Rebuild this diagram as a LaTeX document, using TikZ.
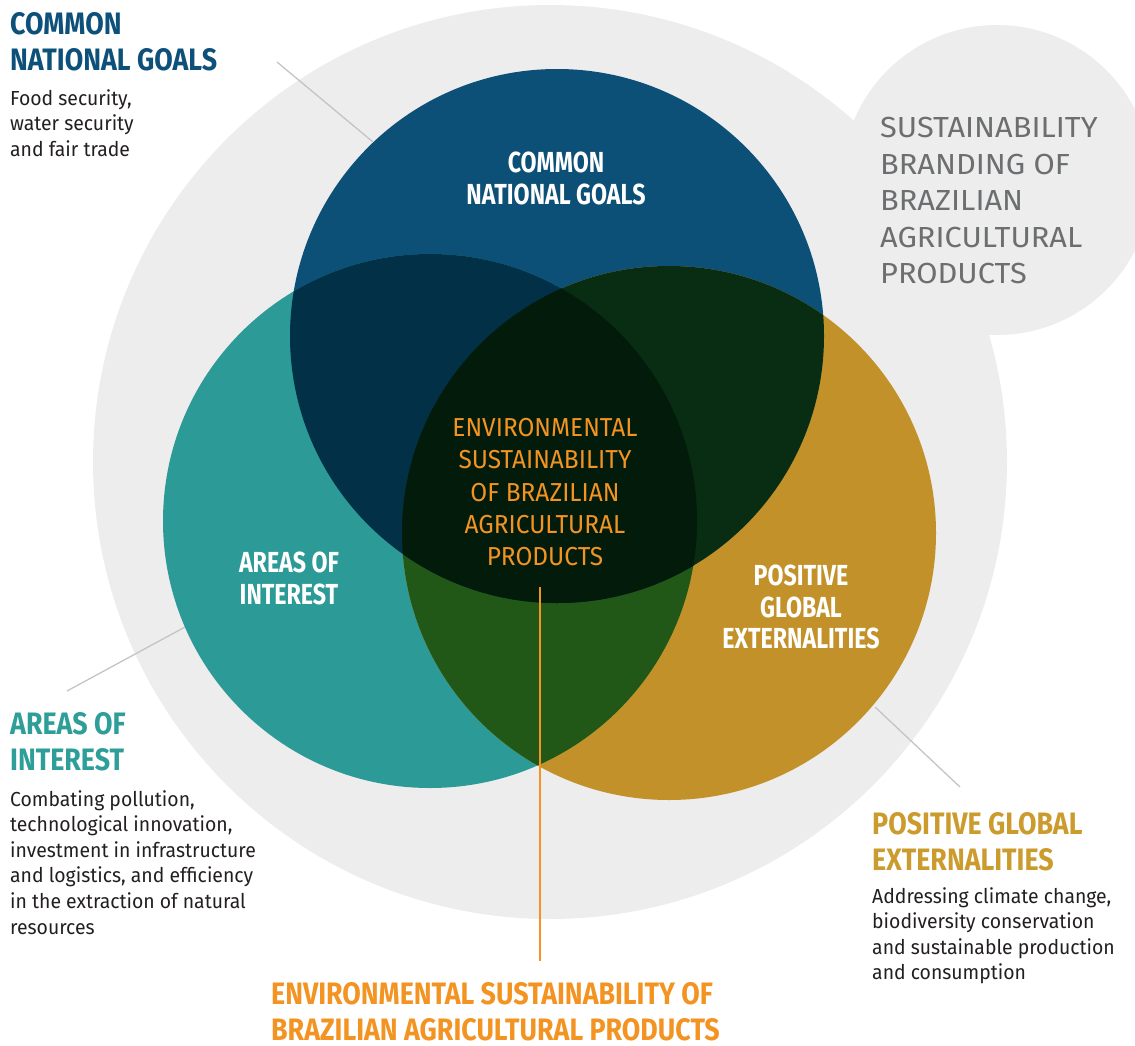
\documentclass[tikz,border=0pt]{standalone}
\usepackage{fontspec}
\setmainfont{Fira Sans}
\newfontfamily\headfont[FakeStretch=0.80]{Fira Sans}
\newfontfamily\sideheadfont[FakeStretch=0.865]{Fira Sans}
\newfontfamily\condfont[FakeStretch=0.94]{Fira Sans}
\newfontfamily\bodyfont[FakeStretch=0.955]{Fira Sans}
\newfontfamily\brandfont[FakeStretch=1.06]{Fira Sans}
\definecolor{bggray}{HTML}{EDEDED}
\definecolor{linegray}{HTML}{C4C4C4}
\definecolor{cblue}{HTML}{0C4F77}
\definecolor{cteal}{HTML}{2C9A96}
\definecolor{cgold}{HTML}{C3912A}
\definecolor{cbt}{HTML}{023047}
\definecolor{cbg}{HTML}{092D13}
\definecolor{ctg}{HTML}{215818}
\definecolor{call}{HTML}{021B0B}
\definecolor{horange}{HTML}{F39322}
\definecolor{hteal}{HTML}{2E9E99}
\definecolor{hgold}{HTML}{CC9B2E}
\definecolor{hblue}{HTML}{0D5079}
\definecolor{txtdark}{HTML}{231F20}
\definecolor{txtgray}{HTML}{6D6E70}
\tikzset{
  disc/.style={circle, inner sep=0pt, outer sep=0pt, minimum size=534pt},
  sidehead/.style={anchor=north west, inner sep=0pt, align=left, font=\sideheadfont\bfseries\fontsize{31}{36.5}\selectfont},
  sidebody/.style={anchor=north west, inner sep=0pt, align=left, text=txtdark, font=\bodyfont\fontsize{20.3}{25.6}\selectfont},
  circlabel/.style={anchor=north, inner sep=0pt, align=center, text=white, font=\headfont\bfseries\fontsize{29}{31.5}\selectfont},
  pointer/.style={draw=linegray, line width=1.3pt},
}
\begin{document}
\begin{tikzpicture}[x=1pt,y=-1pt]
\useasboundingbox (0,0) rectangle (1135,1046);
\clip (0,0) rectangle (1135,1046);
% background gray circles
\node[circle, inner sep=0pt, minimum size=310pt, fill=bggray] (brandbg) at (997,180) {};
\node[circle, inner sep=0pt, minimum size=914pt, fill=bggray] (outer) at (550,462) {};
% pointer lines
\coordinate (p1a) at (277,62);  \coordinate (p1b) at (373,142);
\coordinate (p2a) at (67,691);  \coordinate (p2b) at (185,627);
\coordinate (p3a) at (875,707); \coordinate (p3b) at (960,787);
\draw[pointer] (p1a) -- (p1b);
\draw[pointer] (p2a) -- (p2b);
\draw[pointer] (p3a) -- (p3b);
% three circles
\node[disc, fill=cblue] (blue) at (557,336) {};
\node[disc, fill=cteal] (teal) at (430,521) {};
\node[disc, fill=cgold] (gold) at (669,533) {};
\begin{scope}
  \clip (teal.center) circle[radius=267pt];
  \fill[ctg] (gold.center) circle[radius=267pt];
\end{scope}
\begin{scope}
  \clip (blue.center) circle[radius=267pt];
  \fill[cbt] (teal.center) circle[radius=267pt];
  \fill[cbg] (gold.center) circle[radius=267pt];
  \clip (teal.center) circle[radius=267pt];
  \fill[call] (gold.center) circle[radius=267pt];
\end{scope}
% labels inside circles
\node[circlabel] (lblue) at (556,152) {COMMON\\NATIONAL GOALS};
\node[circlabel] (lteal) at (289,552) {AREAS OF\\INTEREST};
\node[circlabel] (lgold) at (801,565) {POSITIVE\\GLOBAL\\EXTERNALITIES};
\node[anchor=north, inner sep=0pt, align=center, text=horange, font=\condfont\fontsize{26}{32.3}\selectfont] (lcenter) at (545,418)
  {ENVIRONMENTAL\\SUSTAINABILITY\\OF BRAZILIAN\\AGRICULTURAL\\PRODUCTS};
% branding text
\node[anchor=north west, inner sep=0pt, align=left, text=txtgray, font=\brandfont\fontsize{29}{36.5}\selectfont] (brand) at (880,117)
  {SUSTAINABILITY\\BRANDING OF\\BRAZILIAN\\AGRICULTURAL\\PRODUCTS};
% side texts
\node[sidehead, text=hblue] (hgoals) at (10,12) {COMMON\\NATIONAL GOALS};
\node[sidebody] (bgoals) at (10,89) {Food security,\\water security\\and fair trade};
\node[sidehead, text=hteal] (hareas) at (10,712) {AREAS OF\\INTEREST};
\node[sidebody] (bareas) at (10,790) {Combating pollution,\\technological innovation,\\investment in infrastructure\\and logistics, and efficiency\\in the extraction of natural\\resources};
\node[sidehead, text=hgold] (hext) at (872,812) {POSITIVE GLOBAL\\EXTERNALITIES};
\node[sidebody] (bext) at (872,887) {Addressing climate change,\\biodiversity conservation\\and sustainable production\\and consumption};
\node[sidehead, text=horange, font=\sideheadfont\bfseries\fontsize{31}{36}\selectfont] (henv) at (271,982) {ENVIRONMENTAL SUSTAINABILITY OF\\BRAZILIAN AGRICULTURAL PRODUCTS};
% orange pointer
\coordinate (envA) at (540,587);
\coordinate (envB) at (540,961);
\draw[draw=horange, line width=2pt] (envA) -- (envB);
\end{tikzpicture}
\end{document}
